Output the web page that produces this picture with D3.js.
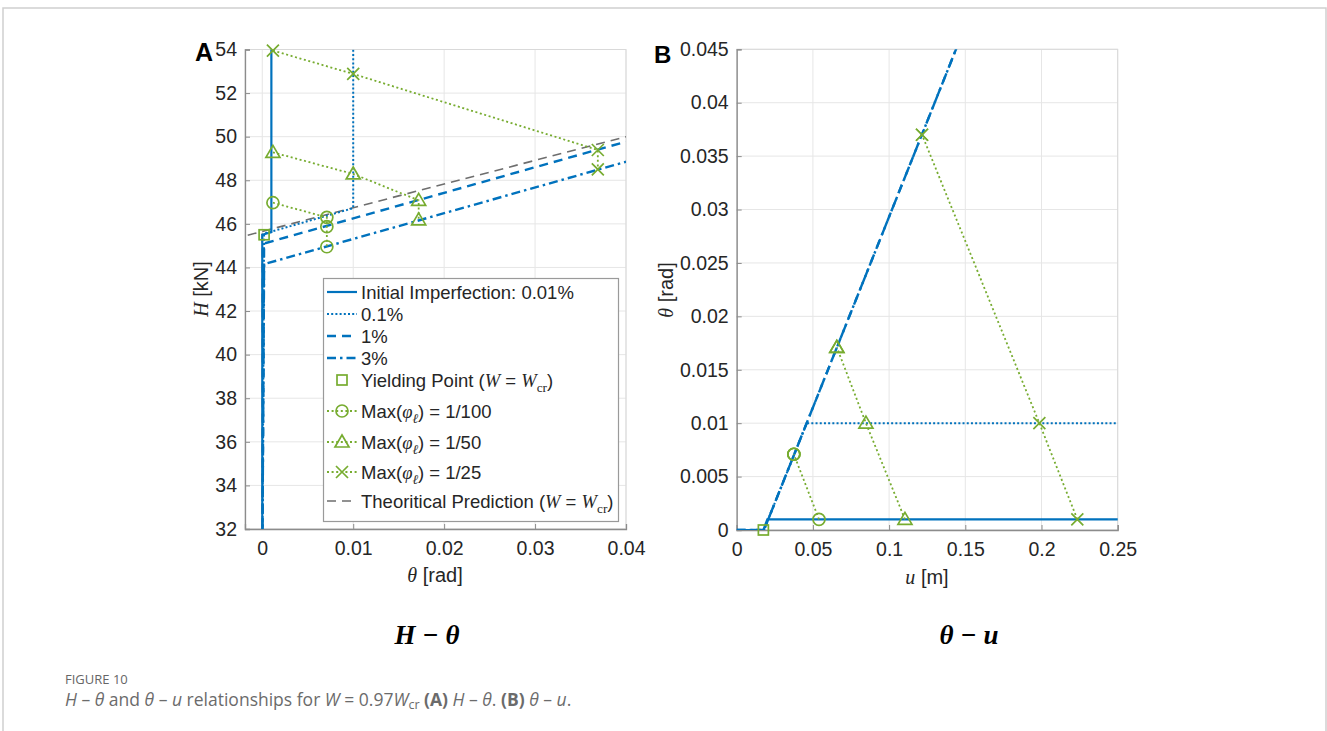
<!DOCTYPE html>
<html>
<head>
<meta charset="utf-8">
<title>H-theta and theta-u relationships</title>
<script src="https://d3js.org/d3.v7.min.js"></script>
<style>
    body { margin: 0; background: #fff; }
</style>
</head>
<body>
<svg width="1327" height="731" font-family="Liberation Sans, Arial, sans-serif"></svg>
<script>
// ---------- data: panel A (H vs theta) ----------
const thetaA001 = [0, 0, 0.001, 0.001];
const HA001 = [30, 45.5, 45.62, 56];
const thetaA01 = [0, 0.0002, 0.01, 0.01];
const HA01 = [30, 45.55, 46.72, 56];
const thetaA1 = [0, 0.0002, 0.04];
const HA1 = [30, 45.1, 49.77];
const thetaA3 = [0, 0.0002, 0.04];
const HA3 = [30, 44.15, 48.85];
const thetaTheory = [0, 0, null, -0.0016, 0.04];
const HTheory = [30, 45.58, null, 45.48, 50.0];

const yieldThetaA = [0.0002], yieldHA = [45.5];
const circThetaA = [0.00117, 0.0071, 0.0071, 0.0071];
const circHA = [46.97, 46.3, 45.87, 44.95];
const triThetaA = [0.00117, 0.01, 0.0172, 0.0172];
const triHA = [49.28, 48.29, 47.08, 46.18];
const crossThetaA = [0.00117, 0.01, 0.0369, 0.0369];
const crossHA = [53.95, 52.88, 49.39, 48.5];

// ---------- data: panel B (theta vs u) ----------
const uB001 = [0, 0.0175, 0.0201, 0.26];
const thB001 = [0, 0, 0.001, 0.001];
const uB01 = [0, 0.0179, 0.0459, 0.26];
const thB01 = [0, 0, 0.01, 0.01];
const uB1 = [0, 0.0179, 0.1439, 0.15];
const thB1 = [0, 0, 0.045, 0.047];
const uB3 = [0, 0.0179, 0.1439, 0.15];
const thB3 = [0, 0, 0.045, 0.047];

const yieldUB = [0.0175], yieldThB = [0];
const circUB = [0.054, 0.0375, 0.0375, 0.0375];
const circThB = [0.001, 0.00709, 0.00709, 0.00709];
const triUB = [0.1104, 0.0848, 0.0657, 0.0657];
const triThB = [0.001, 0.01, 0.0171, 0.0171];
const crossUB = [0.2235, 0.1986, 0.1216, 0.1216];
const crossThB = [0.001, 0.01, 0.037, 0.037];

// ---------- ticks ----------
const xTicksA = [0, 0.01, 0.02, 0.03, 0.04];
const yTicksA = [32, 34, 36, 38, 40, 42, 44, 46, 48, 50, 52, 54];
const xTicksB = [0, 0.05, 0.1, 0.15, 0.2, 0.25];
const yTicksB = [0, 0.005, 0.01, 0.015, 0.02, 0.025, 0.03, 0.035, 0.04, 0.045];
const xTickLabelsB = ["0", "0.05", "0.1", "0.15", "0.2", "0.25"];
const yTickLabelsB = ["0", "0.005", "0.01", "0.015", "0.02", "0.025", "0.03", "0.035", "0.04", "0.045"];

const blue = "#0072BD", green = "#77AC30", grey = "#6e6e6e";
const sans = "Liberation Sans, Arial, sans-serif";
const serif = "Liberation Serif, Times New Roman, serif";
const styles = {
    solid: { stroke: blue, width: 2.2, dash: null },
    dotted: { stroke: blue, width: 2, dash: "2,2.2" },
    dashed: { stroke: blue, width: 2.4, dash: "9,6" },
    dashdot: { stroke: blue, width: 2.4, dash: "9,4,2.5,4" },
    green: { stroke: green, width: 1.8, dash: "2,2.6" },
    theory: { stroke: grey, width: 1.6, dash: "9,6" }
};

const svg = d3.select("svg");
const zip = (a, b) => a.map((v, i) => [v, b[i]]);

// figure border
svg.append("rect").attr("x", 3).attr("y", 8).attr("width", 1323).attr("height", 760)
    .attr("fill", "none").attr("stroke", "#cfcfcf").attr("stroke-width", 1.5);

function marker(g, type, x, y) {
    if (type === "circle") {
        g.append("circle").attr("cx", x).attr("cy", y).attr("r", 6)
            .attr("fill", "none").attr("stroke", green).attr("stroke-width", 1.7);
    } else if (type === "square") {
        g.append("rect").attr("x", x - 5).attr("y", y - 5).attr("width", 10).attr("height", 10)
            .attr("fill", "none").attr("stroke", green).attr("stroke-width", 1.7);
    } else if (type === "triangle") {
        g.append("path").attr("d", `M${x},${y - 7}L${x + 7},${y + 5}L${x - 7},${y + 5}Z`)
            .attr("fill", "none").attr("stroke", green).attr("stroke-width", 1.7);
    } else {
        g.append("path").attr("d", `M${x - 6},${y - 6}L${x + 6},${y + 6}M${x - 6},${y + 6}L${x + 6},${y - 6}`)
            .attr("fill", "none").attr("stroke", green).attr("stroke-width", 1.7);
    }
}

function drawPanel(p) {
    const x = d3.scaleLinear().domain(p.xDomain).range([p.left, p.right]);
    const y = d3.scaleLinear().domain(p.yDomain).range([p.bottom, p.top]);
    const g = svg.append("g");

    // grid
    g.selectAll(".gx").data(p.xTicks).enter().append("line")
        .attr("x1", d => x(d)).attr("x2", d => x(d)).attr("y1", p.top).attr("y2", p.bottom)
        .attr("stroke", "#e6e6e6").attr("stroke-width", 1);
    g.selectAll(".gy").data(p.yTicks).enter().append("line")
        .attr("x1", p.left).attr("x2", p.right).attr("y1", d => y(d)).attr("y2", d => y(d))
        .attr("stroke", "#e6e6e6").attr("stroke-width", 1);
    g.append("rect").attr("x", p.left).attr("y", p.top)
        .attr("width", p.right - p.left).attr("height", p.bottom - p.top)
        .attr("fill", "none").attr("stroke", "#d9d9d9");

    // axes
    const ax = g.append("g").attr("transform", `translate(0,${p.bottom})`)
        .call(d3.axisBottom(x).tickValues(p.xTicks).tickFormat((d, i) => p.xLabels[i]).tickSize(-5).tickPadding(10));
    const ay = g.append("g").attr("transform", `translate(${p.left},0)`)
        .call(d3.axisLeft(y).tickValues(p.yTicks).tickFormat((d, i) => p.yLabels[i]).tickSize(-5).tickPadding(8));
    [ax, ay].forEach(a => {
        a.attr("font-family", sans).attr("font-size", 19.5);
        a.select(".domain").attr("stroke", "#8c8c8c").attr("stroke-width", 1.3);
        a.selectAll(".tick line").attr("stroke", "#8c8c8c");
        a.selectAll(".tick text").attr("fill", "#262626");
    });
    ax.selectAll(".tick text").attr("dy", "0.8em");

    // clipped data
    const clipId = "clip" + p.name;
    svg.append("clipPath").attr("id", clipId).append("rect")
        .attr("x", p.left).attr("y", p.top).attr("width", p.right - p.left).attr("height", p.bottom - p.top);
    const plot = g.append("g").attr("clip-path", `url(#${clipId})`);
    const markers = g.append("g");
    const line = d3.line().defined(d => d[0] !== null).x(d => x(d[0])).y(d => y(d[1]));

    p.series.forEach(s => {
        const st = styles[s.style];
        plot.append("path").datum(s.pts).attr("d", line)
            .attr("fill", "none").attr("stroke", st.stroke).attr("stroke-width", st.width)
            .attr("stroke-dasharray", st.dash);
        if (s.marker) s.pts.forEach(d => marker(markers, s.marker, x(d[0]), y(d[1])));
    });
    return { x, y, g };
}

drawPanel({
    name: "A", left: 245, right: 626, top: 49.5, bottom: 529,
    xDomain: [-0.0019, 0.04], yDomain: [32, 54],
    xTicks: xTicksA, yTicks: yTicksA,
    xLabels: xTicksA.map(String), yLabels: yTicksA.map(String),
    series: [
        { pts: zip(thetaA3, HA3), style: "dashdot" },
        { pts: zip(thetaA1, HA1), style: "dashed" },
        { pts: zip(thetaTheory, HTheory), style: "theory" },
        { pts: zip(thetaA01, HA01), style: "dotted" },
        { pts: zip(thetaA001, HA001), style: "solid" },
        { pts: zip(yieldThetaA, yieldHA), style: "green", marker: "square" },
        { pts: zip(circThetaA, circHA), style: "green", marker: "circle" },
        { pts: zip(triThetaA, triHA), style: "green", marker: "triangle" },
        { pts: zip(crossThetaA, crossHA), style: "green", marker: "cross" }
    ]
});

drawPanel({
    name: "B", left: 736.7, right: 1117.7, top: 49.3, bottom: 530,
    xDomain: [0, 0.25], yDomain: [0, 0.045],
    xTicks: xTicksB, yTicks: yTicksB,
    xLabels: xTickLabelsB, yLabels: yTickLabelsB,
    series: [
        { pts: zip(uB3, thB3), style: "dashdot" },
        { pts: zip(uB1, thB1), style: "dashed" },
        { pts: zip(uB01, thB01), style: "dotted" },
        { pts: zip(uB001, thB001), style: "solid" },
        { pts: zip(yieldUB, yieldThB), style: "green", marker: "square" },
        { pts: zip(circUB, circThB), style: "green", marker: "circle" },
        { pts: zip(triUB, triThB), style: "green", marker: "triangle" },
        { pts: zip(crossUB, crossThB), style: "green", marker: "cross" }
    ]
});

// ---------- text helpers ----------
function rich(sel, parts, size) {
    parts.forEach(pt => {
        const t = sel.append("tspan").text(pt.t);
        if (pt.i) t.attr("font-style", "italic");
        if (pt.serif || pt.i) t.attr("font-family", serif);
        if (pt.b) t.attr("font-weight", "bold");
        if (pt.sub) t.attr("font-size", size * 0.72).attr("dy", size * 0.3);
        if (pt.up) t.attr("dy", -size * 0.3);
        if (pt.size) t.attr("font-size", pt.size);
    });
}

// axis labels
const axisLabel = (tr) => svg.append("text").attr("transform", tr).attr("text-anchor", "middle")
    .attr("font-size", 20).attr("fill", "#262626");
rich(axisLabel("translate(435,582)"), [{ t: "θ", i: true }, { t: " [rad]" }], 20);
rich(axisLabel("translate(208,289) rotate(-90)"), [{ t: "H", i: true }, { t: " [kN]" }], 20);
rich(axisLabel("translate(927,584)"), [{ t: "u", i: true }, { t: " [m]" }], 20);
rich(axisLabel("translate(673,290) rotate(-90)"), [{ t: "θ", i: true }, { t: " [rad]" }], 20);

// panel letters
svg.append("text").attr("x", 195).attr("y", 61).attr("font-size", 25).attr("font-weight", "bold").text("A");
svg.append("text").attr("x", 654).attr("y", 63).attr("font-size", 24).attr("font-weight", "bold").text("B");

// ---------- legend (panel A) ----------
const legend = svg.append("g");
legend.append("rect").attr("x", 323.5).attr("y", 278.5).attr("width", 295).attr("height", 243)
    .attr("fill", "#fff").attr("stroke", "#9a9a9a").attr("stroke-width", 1.2);
const wcr = [{ t: "W", i: true }, { t: " = " }, { t: "W", i: true }, { t: "cr", sub: true, serif: true }, { t: ")", up: true }];
const phi = [{ t: "Max(" }, { t: "φ", i: true }, { t: "ℓ", sub: true, i: true }];
const legendRows = [
    { style: "solid", parts: [{ t: "Initial Imperfection: 0.01%" }] },
    { style: "dotted", parts: [{ t: "0.1%" }] },
    { style: "dashed", parts: [{ t: "1%" }] },
    { style: "dashdot", parts: [{ t: "3%" }] },
    { marker: "square", parts: [{ t: "Yielding Point (" }].concat(wcr) },
    { style: "green", marker: "circle", parts: phi.concat([{ t: ") = 1/100", up: true }]) },
    { style: "green", marker: "triangle", parts: phi.concat([{ t: ") = 1/50", up: true }]) },
    { style: "green", marker: "cross", parts: phi.concat([{ t: ") = 1/25", up: true }]) },
    { style: "theory", parts: [{ t: "Theoritical Prediction (" }].concat(wcr) }
];
const rowY = [292, 314, 336, 358, 380, 411, 442, 472, 501];
legendRows.forEach((r, i) => {
    const yy = rowY[i];
    if (r.style) {
        const st = styles[r.style];
        legend.append("line").attr("x1", 327).attr("x2", 357).attr("y1", yy).attr("y2", yy)
            .attr("stroke", st.stroke).attr("stroke-width", st.width).attr("stroke-dasharray", st.dash);
    }
    if (r.marker) marker(legend, r.marker, 342, yy);
    rich(legend.append("text").attr("x", 361).attr("y", yy + 6.5).attr("font-size", 18.5).attr("fill", "#262626"),
        r.parts, 18.5);
});

// ---------- sub-titles ----------
svg.append("text").attr("x", 427).attr("y", 644).attr("text-anchor", "middle")
    .attr("font-family", serif).attr("font-style", "italic").attr("font-weight", "bold")
    .attr("font-size", 27).text("H − θ");
svg.append("text").attr("x", 969).attr("y", 644).attr("text-anchor", "middle")
    .attr("font-family", serif).attr("font-style", "italic").attr("font-weight", "bold")
    .attr("font-size", 27).text("θ − u");

// ---------- caption ----------
const capFont = "Open Sans, Noto Sans, sans-serif";
svg.append("text").attr("x", 65).attr("y", 684).attr("font-family", capFont)
    .attr("font-size", 13).attr("fill", "#666").text("FIGURE 10");
const cap = svg.append("text").attr("x", 65).attr("y", 706).attr("font-family", capFont)
    .attr("font-size", 17.5).attr("fill", "#6b6b6b");
[
    { t: "H", it: 1 }, { t: " – " }, { t: "θ", it: 1 }, { t: " and " }, { t: "θ", it: 1 }, { t: " – " }, { t: "u", it: 1 },
    { t: " relationships for " }, { t: "W", it: 1 }, { t: " = 0.97" }, { t: "W", it: 1 }, { t: "cr", sub: 1 },
    { t: " (A)", b: 1, rise: 1 }, { t: " " }, { t: "H", it: 1 }, { t: " – " }, { t: "θ", it: 1 }, { t: ". " },
    { t: "(B)", b: 1 }, { t: " " }, { t: "θ", it: 1 }, { t: " – " }, { t: "u", it: 1 }, { t: "." }
].forEach(p => {
    const t = cap.append("tspan").text(p.t);
    if (p.it) t.attr("font-style", "italic");
    if (p.b) t.attr("font-weight", "bold");
    if (p.sub) t.attr("font-size", 12.5).attr("dy", 3);
    if (p.rise) t.attr("dy", -3);
});
</script>
</body>
</html>
